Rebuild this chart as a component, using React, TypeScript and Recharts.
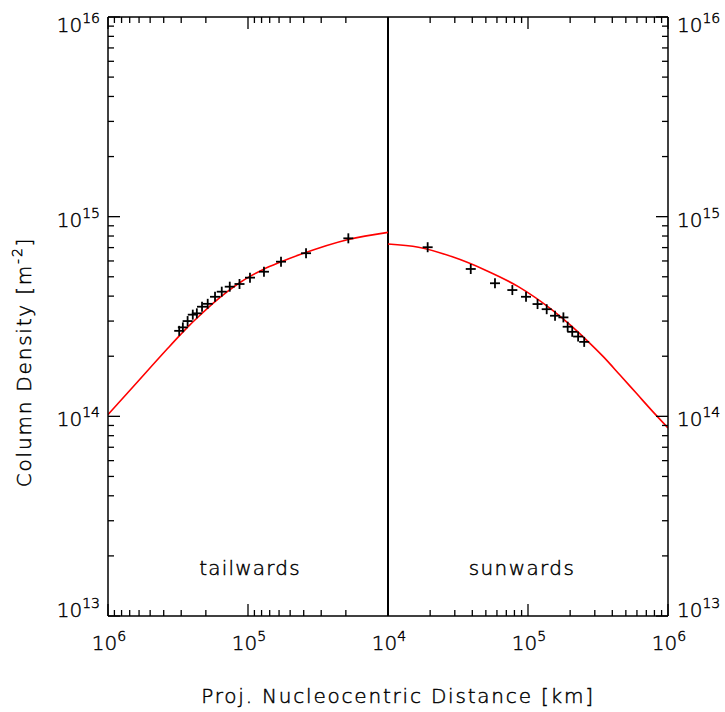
import React from 'react';
import { ComposedChart, XAxis, YAxis, Line, Scatter, ReferenceLine } from 'recharts';

// ---- data ----
// Tailward measurements: projected nucleocentric distance [km], column density [m^-2]
const TAIL_DIST_KM = [3.10e5, 2.92e5, 2.70e5, 2.48e5, 2.32e5, 2.13e5, 1.94e5, 1.72e5, 1.54e5, 1.35e5, 1.15e5, 9.68e4, 7.69e4, 5.81e4, 3.85e4, 1.92e4];
const TAIL_DENSITY = [2.68e14, 2.79e14, 3.00e14, 3.23e14, 3.28e14, 3.54e14, 3.66e14, 3.97e14, 4.21e14, 4.46e14, 4.60e14, 4.95e14, 5.30e14, 5.95e14, 6.56e14, 7.79e14];
// Sunward measurements
const SUN_DIST_KM = [1.92e4, 3.90e4, 5.81e4, 7.73e4, 9.68e4, 1.17e5, 1.36e5, 1.56e5, 1.79e5, 1.92e5, 2.07e5, 2.28e5, 2.52e5];
const SUN_DENSITY = [7.03e14, 5.47e14, 4.64e14, 4.29e14, 3.97e14, 3.65e14, 3.44e14, 3.19e14, 3.13e14, 2.81e14, 2.65e14, 2.51e14, 2.36e14];
// Model curves (red)
const TAIL_MODEL_DIST_KM = [1.0e6, 6.59e5, 3.81e5, 3.06e5, 2.60e5, 2.20e5, 1.77e5, 1.42e5, 1.14e5, 9.68e4, 7.78e4, 5.91e4, 4.25e4, 1.92e4, 1.0e4];
const TAIL_MODEL_DENSITY = [1.02e14, 1.41e14, 2.16e14, 2.55e14, 2.87e14, 3.21e14, 3.69e14, 4.19e14, 4.68e14, 5.02e14, 5.44e14, 5.91e14, 6.46e14, 7.69e14, 8.34e14];
const SUN_MODEL_DIST_KM = [1.0e4, 1.65e4, 2.85e4, 4.93e4, 8.53e4, 1.47e5, 2.0e5, 2.62e5, 3.45e5, 4.54e5, 5.97e5, 7.85e5, 1.0e6];
const SUN_MODEL_DENSITY = [7.30e14, 7.03e14, 6.31e14, 5.41e14, 4.46e14, 3.43e14, 2.87e14, 2.41e14, 1.99e14, 1.61e14, 1.30e14, 1.05e14, 8.75e13];

// Tick labels
const X_MAJOR_TICKS = [-2, -1, 0, 1, 2];
const X_TICK_EXPONENTS = ['6', '5', '4', '5', '6'];
const Y_MAJOR_TICKS = [1e13, 1e14, 1e15, 1e16];
const Y_TICK_EXPONENTS = ['13', '14', '15', '16'];
const MINOR_MULTIPLIERS = [2, 3, 4, 5, 6, 7, 8, 9];

const X_TITLE = 'Proj. Nucleocentric Distance [km]';
const Y_TITLE = 'Column Density [m';
const Y_TITLE_SUP = '-2';
const LEFT_TEXT = 'tailwards';
const RIGHT_TEXT = 'sunwards';

// ---- derived tables ----
const toU = (d: number, side: 'tail' | 'sun') => (side === 'tail' ? 4 - Math.log10(d) : Math.log10(d) - 4);

const tailPoints = TAIL_DIST_KM.map((d, i) => ({ u: toU(d, 'tail'), n: TAIL_DENSITY[i] }));
const sunPoints = SUN_DIST_KM.map((d, i) => ({ u: toU(d, 'sun'), n: SUN_DENSITY[i] }));
const points = [...tailPoints, ...sunPoints];
const tailModel = TAIL_MODEL_DIST_KM.map((d, i) => ({ u: toU(d, 'tail'), n: TAIL_MODEL_DENSITY[i] })).sort((a, b) => a.u - b.u);
const sunModel = SUN_MODEL_DIST_KM.map((d, i) => ({ u: toU(d, 'sun'), n: SUN_MODEL_DENSITY[i] })).sort((a, b) => a.u - b.u);

const xMinor: number[] = [];
[4, 5].forEach((e) =>
  MINOR_MULTIPLIERS.forEach((k) => {
    const l = Math.log10(k) + e - 4;
    xMinor.push(-l, l);
  })
);
const X_TICKS = [...X_MAJOR_TICKS, ...xMinor].sort((a, b) => a - b);

const yMinor: number[] = [];
[13, 14, 15].forEach((e) => MINOR_MULTIPLIERS.forEach((k) => yMinor.push(k * Math.pow(10, e))));
const Y_TICKS = [...Y_MAJOR_TICKS, ...yMinor].sort((a, b) => a - b);

// ---- styles ----
const FONT = '"DejaVu Sans", sans-serif';
const FW = 200;
const INK = '#000';
const TXT_STROKE = 0.45;
const MAJOR_LEN = 12;
const MINOR_LEN = 6;
const TICK_W = 1.3;

const xMajorIndex = (v: number) => X_MAJOR_TICKS.findIndex((m) => Math.abs(m - v) < 1e-9);
const yMajorIndex = (v: number) => Y_MAJOR_TICKS.findIndex((m) => Math.abs(Math.log10(m) - Math.log10(v)) < 1e-9);
const yLabelDy = (idx: number) => (idx === Y_MAJOR_TICKS.length - 1 ? 15 : idx === 0 ? 1 : 10);

const textStyle = { fontFamily: FONT, fontWeight: FW, fill: INK, stroke: INK, strokeWidth: TXT_STROKE } as const;

const Power = ({ x, y, exp, anchor }: { x: number; y: number; exp: string; anchor: 'start' | 'middle' | 'end' }) => (
  <text x={x} y={y} textAnchor={anchor} {...textStyle} fontSize={20}>
    10
    <tspan fontSize={14} dy={-9}>
      {exp}
    </tspan>
  </text>
);

const BottomTick = (props: any) => {
  const { x, y, payload } = props;
  const idx = xMajorIndex(payload.value);
  const len = idx >= 0 ? MAJOR_LEN : MINOR_LEN;
  return (
    <g>
      <line x1={x} x2={x} y1={y} y2={y - len} stroke={INK} strokeWidth={TICK_W} />
      {idx >= 0 && <Power x={x + 1} y={y + 34} exp={X_TICK_EXPONENTS[idx]} anchor="middle" />}
    </g>
  );
};

const TopTick = (props: any) => {
  const { x, y, payload } = props;
  const idx = xMajorIndex(payload.value);
  const len = idx >= 0 ? MAJOR_LEN : MINOR_LEN;
  return <line x1={x} x2={x} y1={y} y2={y + len} stroke={INK} strokeWidth={TICK_W} />;
};

const LeftTick = (props: any) => {
  const { x, y, payload } = props;
  const idx = yMajorIndex(payload.value);
  const len = idx >= 0 ? MAJOR_LEN : MINOR_LEN;
  return (
    <g>
      <line x1={x} x2={x + len} y1={y} y2={y} stroke={INK} strokeWidth={TICK_W} />
      {idx >= 0 && <Power x={x - 8} y={y + yLabelDy(idx)} exp={Y_TICK_EXPONENTS[idx]} anchor="end" />}
    </g>
  );
};

const RightTick = (props: any) => {
  const { x, y, payload } = props;
  const idx = yMajorIndex(payload.value);
  const len = idx >= 0 ? MAJOR_LEN : MINOR_LEN;
  return (
    <g>
      <line x1={x} x2={x - len} y1={y} y2={y} stroke={INK} strokeWidth={TICK_W} />
      {idx >= 0 && <Power x={x + 9} y={y + yLabelDy(idx)} exp={Y_TICK_EXPONENTS[idx]} anchor="start" />}
    </g>
  );
};

const Plus = (props: any) => {
  const { cx, cy } = props;
  if (cx == null || cy == null) return null;
  const a = 5;
  return (
    <g>
      <line x1={cx - a} x2={cx + a} y1={cy} y2={cy} stroke={INK} strokeWidth={1.8} />
      <line x1={cx} x2={cx} y1={cy - a} y2={cy + a} stroke={INK} strokeWidth={1.8} />
    </g>
  );
};

const XTitle = () => (
  <g>
    <text x={398} y={703} textAnchor="middle" {...textStyle} fontSize={20} letterSpacing={1.8}>
      {X_TITLE}
    </text>
    <text x={250} y={575} textAnchor="middle" {...textStyle} fontSize={20} letterSpacing={1.2}>
      {LEFT_TEXT}
    </text>
    <text x={522} y={575} textAnchor="middle" {...textStyle} fontSize={20} letterSpacing={1.4}>
      {RIGHT_TEXT}
    </text>
  </g>
);

const YTitle = () => (
  <text transform="translate(31,362) rotate(-90)" x={0} y={0} textAnchor="middle" {...textStyle} fontSize={20} letterSpacing={1.8}>
    {Y_TITLE}
    <tspan fontSize={14} dy={-9}>
      {Y_TITLE_SUP}
    </tspan>
    <tspan dy={9}>]</tspan>
  </text>
);

export default function App() {
  return (
    <div style={{ position: 'absolute', left: 0, top: 0, width: 725, height: 712, background: '#fff' }}>
      <ComposedChart width={725} height={712} margin={{ top: 0, right: 0, bottom: 0, left: 0 }}>
        <XAxis
          xAxisId="bottom"
          dataKey="u"
          type="number"
          domain={[-2, 2]}
          allowDataOverflow
          ticks={X_TICKS}
          interval={0}
          tickSize={0}
          tickMargin={0}
          tickLine={false}
          tick={<BottomTick />}
          axisLine={{ stroke: INK, strokeWidth: 1.5 }}
          height={96}
          orientation="bottom"
          label={<XTitle />}
        />
        <XAxis
          xAxisId="top"
          dataKey="u"
          type="number"
          domain={[-2, 2]}
          allowDataOverflow
          ticks={X_TICKS}
          interval={0}
          tickSize={0}
          tickMargin={0}
          tickLine={false}
          tick={<TopTick />}
          axisLine={{ stroke: INK, strokeWidth: 1.5 }}
          height={17}
          orientation="top"
        />
        <YAxis
          yAxisId="left"
          dataKey="n"
          type="number"
          scale="log"
          domain={[1e13, 1e16]}
          allowDataOverflow
          ticks={Y_TICKS}
          interval={0}
          tickSize={0}
          tickMargin={0}
          tickLine={false}
          tick={<LeftTick />}
          axisLine={{ stroke: INK, strokeWidth: 1.5 }}
          width={108}
          orientation="left"
          label={<YTitle />}
        />
        <YAxis
          yAxisId="right"
          dataKey="n"
          type="number"
          scale="log"
          domain={[1e13, 1e16]}
          allowDataOverflow
          ticks={Y_TICKS}
          interval={0}
          tickSize={0}
          tickMargin={0}
          tickLine={false}
          tick={<RightTick />}
          axisLine={{ stroke: INK, strokeWidth: 1.5 }}
          width={57}
          orientation="right"
        />
        <ReferenceLine xAxisId="bottom" yAxisId="left" x={0} stroke={INK} strokeWidth={2} />
        <Line xAxisId="bottom" yAxisId="left" data={tailModel} dataKey="n" type="monotone" stroke="#ff0000" strokeWidth={1.6} dot={false} isAnimationActive={false} />
        <Line xAxisId="bottom" yAxisId="left" data={sunModel} dataKey="n" type="monotone" stroke="#ff0000" strokeWidth={1.6} dot={false} isAnimationActive={false} />
        <Scatter xAxisId="top" yAxisId="right" data={points} dataKey="n" shape={<Plus />} isAnimationActive={false} />
      </ComposedChart>
    </div>
  );
}
